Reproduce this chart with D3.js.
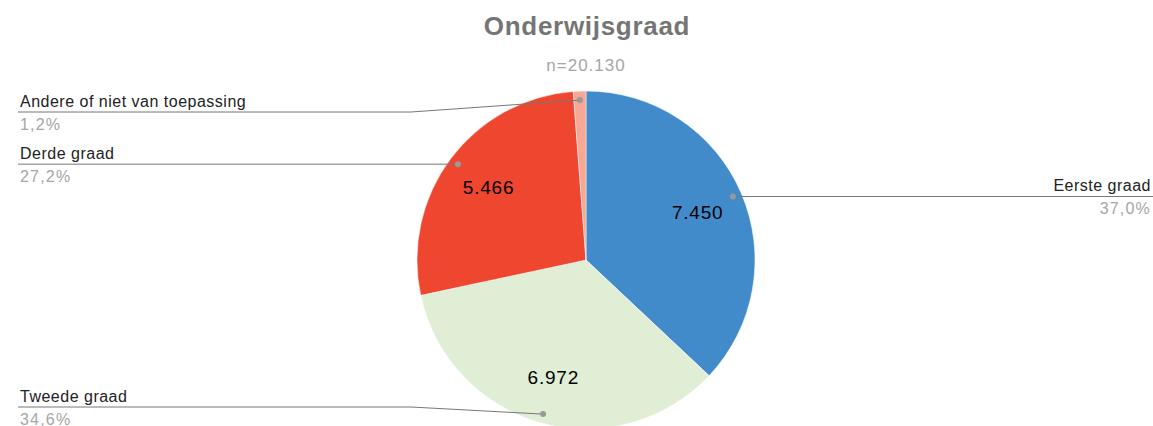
<!DOCTYPE html>
<html>
<head>
<meta charset="utf-8">
<script src="https://cdn.jsdelivr.net/npm/d3@7"></script>
<style>
  body { margin:0; background:#fff; }
  svg { display:block; font-family:Arial, "Liberation Sans", sans-serif; }
</style>
</head>
<body>
<svg id="chart" width="1153" height="426"></svg>
<script>
// data
var categorieen = ["Eerste graad", "Tweede graad", "Derde graad", "Andere of niet van toepassing"];
var aantallen   = [7450, 6972, 5466, 242];
var kleuren     = ["#428bcb", "#e1eed6", "#ef4630", "#f7a795"];
var titel       = "Onderwijsgraad";
var ondertitel  = "n=20.130";

var W = 1153, H = 426;
var cx = 586, cy = 260, R = 169;

var nl = d3.formatLocale({ decimal: ",", thousands: ".", grouping: [3], currency: ["€", ""] });
var fmtAantal = nl.format(",d");
var fmtPct = nl.format(".1%");

var totaal = d3.sum(aantallen);
var data = categorieen.map(function(c, i) {
  return { naam: c, waarde: aantallen[i], kleur: kleuren[i] };
});

var svg = d3.select("#chart");

svg.append("text")
  .attr("x", 587).attr("y", 35)
  .attr("text-anchor", "middle")
  .attr("font-size", 26).attr("font-weight", 700)
  .attr("letter-spacing", 0.7)
  .attr("fill", "#757575")
  .text(titel);

svg.append("text")
  .attr("x", 586).attr("y", 71)
  .attr("text-anchor", "middle")
  .attr("font-size", 17)
  .attr("letter-spacing", 1)
  .attr("fill", "#a6a6a6")
  .text(ondertitel);

var pie = d3.pie().sort(null).value(function(d) { return d.waarde; });
var arcs = pie(data);
var arc = d3.arc().innerRadius(0).outerRadius(R);

var g = svg.append("g").attr("transform", "translate(" + cx + "," + cy + ")");

g.selectAll("path.slice")
  .data(arcs).enter()
  .append("path")
  .attr("class", "slice")
  .attr("d", arc)
  .attr("fill", function(d) { return d.data.kleur; })
  .attr("stroke", "#fff")
  .attr("stroke-width", 0.5);

// waardes in de taartpunten (niet voor de kleine)
var labelArc = d3.arc().innerRadius(R * 0.72).outerRadius(R * 0.72);
g.selectAll("text.waarde")
  .data(arcs.filter(function(d) { return d.data.waarde / totaal > 0.05; })).enter()
  .append("text")
  .attr("class", "waarde")
  .attr("transform", function(d) { return "translate(" + labelArc.centroid(d) + ")"; })
  .attr("text-anchor", "middle")
  .attr("dy", "0.36em")
  .attr("font-size", 19)
  .attr("letter-spacing", 0.8)
  .attr("fill", "#000")
  .text(function(d) { return fmtAantal(d.data.waarde); });

// legend labels met lijntjes
var dotR = 160;
var yMin = 112, yMax = 407;

arcs.forEach(function(d) {
  var a = (d.startAngle + d.endAngle) / 2;
  var px = cx + Math.sin(a) * dotR;
  var py = cy - Math.cos(a) * dotR;
  var rechts = Math.sin(a) > 0;
  var ly = Math.max(yMin, Math.min(yMax, py));
  var bx = rechts ? cx + R + 6 : cx - R - 6;
  var ex = rechts ? W : 18;

  svg.append("path")
    .attr("d", d3.line()([[px, py], [bx, ly], [ex, ly]]))
    .attr("fill", "none")
    .attr("stroke", "#777")
    .attr("stroke-width", 1);

  svg.append("circle")
    .attr("cx", px).attr("cy", py).attr("r", 3)
    .attr("fill", "#999");

  var tx = rechts ? W - 2 : 20;
  var anchor = rechts ? "end" : "start";

  svg.append("text")
    .attr("x", tx).attr("y", ly - 5)
    .attr("text-anchor", anchor)
    .attr("font-size", 16)
    .attr("letter-spacing", 0.5)
    .attr("fill", "#222")
    .text(d.data.naam);

  svg.append("text")
    .attr("x", tx).attr("y", ly + 18)
    .attr("text-anchor", anchor)
    .attr("font-size", 16)
    .attr("letter-spacing", 1.2)
    .attr("fill", "#a6a6a6")
    .text(fmtPct(d.data.waarde / totaal));
});
</script>
</body>
</html>
